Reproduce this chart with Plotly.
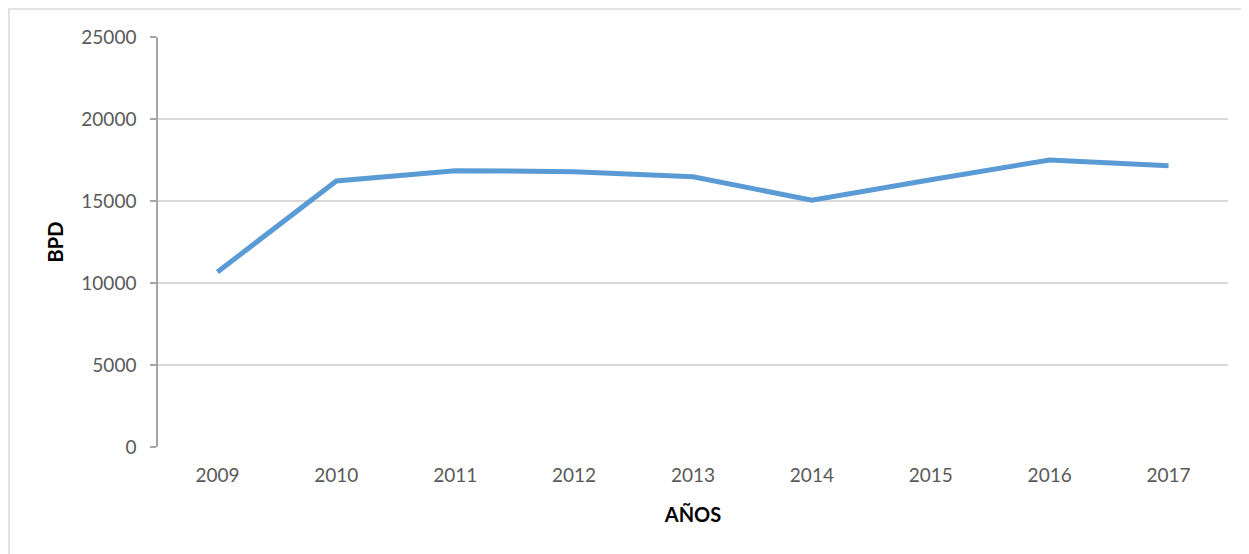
import plotly.graph_objects as go

years = ["2009", "2010", "2011", "2012", "2013", "2014", "2015", "2016", "2017"]
bpd = [10670, 16220, 16850, 16790, 16480, 15050, 16300, 17500, 17150]
y_ticks = [0, 5000, 10000, 15000, 20000, 25000]

# page body adds an 8px offset; compensate so the plot lands where the reference has it
OFF = 8
W, H = 1249 - OFF, 554 - OFF
L, R, T, B = 158 - OFF, 21, 37 - OFF, 107
pw, ph = W - L - R, H - T - B

fig = go.Figure()
fig.add_trace(go.Scatter(
    x=years, y=bpd, mode="lines",
    line=dict(color="#5b9bd5", width=5),
    hoverinfo="x+y",
))

font_family = "Lato, 'Open Sans', sans-serif"

fig.update_layout(
    width=W, height=H,
    margin=dict(l=L, r=R, t=T, b=B),
    paper_bgcolor="white", plot_bgcolor="white",
    showlegend=False,
    font=dict(family=font_family, size=19, color="#595959"),
    xaxis=dict(
        type="category", range=[-0.5, 8.5],
        showgrid=False, showline=False, zeroline=False,
        ticks="", tickfont=dict(size=19, color="#595959"),
        ticklabelstandoff=15,
        title=dict(text="<b>AÑOS</b>", font=dict(size=20, color="black"), standoff=22),
    ),
    yaxis=dict(
        range=[0, 25000], tickvals=y_ticks, ticktext=[str(v) for v in y_ticks],
        showgrid=True, gridcolor="#d9d9d9", gridwidth=1.5,
        showline=True, linecolor="#a6a6a6", linewidth=1.5,
        zeroline=False,
        ticks="outside", ticklen=6, tickcolor="#a6a6a6", tickwidth=1.5,
        ticklabelstandoff=10,
        tickfont=dict(size=19, color="#595959"),
        title=dict(text="<b>BPD</b>", font=dict(size=20, color="black"), standoff=12),
    ),
    shapes=[dict(
        type="rect", xref="paper", yref="paper",
        x0=(9 - 158) / pw, x1=(W + 20 - L) / pw,
        y0=-(B + 20) / ph, y1=1 + (37 - 9) / ph,
        line=dict(color="#d9d9d9", width=1.5), fillcolor="rgba(0,0,0,0)",
        layer="below",
    )],
)

fig.write_html("out.html")
